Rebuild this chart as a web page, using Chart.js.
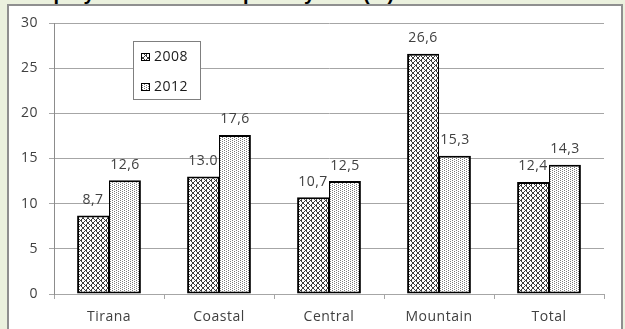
<!DOCTYPE html>
<html>
<head>
<meta charset="utf-8">
<script src="https://cdn.jsdelivr.net/npm/chart.js@4.4.1/dist/chart.umd.min.js"></script>
<style>
  html, body { margin: 0; padding: 0; }
  body { width: 625px; height: 329px; overflow: hidden; position: relative; background: #EBF1DE; }
  #heading { position: absolute; left: 0; top: 0; width: 625px; height: 4px; overflow: hidden; }
  #heading span { position: absolute; top: -17px; font: bold 20px "Liberation Sans", Arial, sans-serif; line-height: 20px; color: #000; white-space: nowrap; }
  #frame { position: absolute; left: 7px; top: 4px; width: 616px; height: 360px; box-sizing: border-box; background: #fff; border: 2px solid #8f8f8f; }
  #chart { position: absolute; left: 0; top: 0; }
</style>
</head>
<body>
<div id="heading"><span style="left:-2px">Unemployment and</span><span style="left:243px">poverty rate (%)</span></div>
<div id="frame"></div>
<canvas id="chart" width="625" height="329"></canvas>
<script>
// Regions and the two survey years
const categories = ['Tirana', 'Coastal', 'Central', 'Mountain', 'Total'];
const seriesNames = ['2008', '2012'];
// Value labels as printed above each bar; bar heights are parsed from them
const labels2008 = ['8,7', '13.0', '10,7', '26,6', '12,4'];
const labels2012 = ['12,6', '17,6', '12,5', '15,3', '14,3'];
const yTicks = [0, 5, 10, 15, 20, 25, 30];

const toNumber = s => parseFloat(s.replace(',', '.'));
const values2008 = labels2008.map(toNumber);
const values2012 = labels2012.map(toNumber);
const valueLabels = [labels2008, labels2012];

const FONT = '"Open Sans", "DejaVu Sans", sans-serif';
const TEXT = '#404040';
const GRID = '#a6a6a6';

// Build a small repeating fill from a per-pixel rule
function makePattern(size, isDark, dark) {
  const tile = document.createElement('canvas');
  tile.width = size; tile.height = size;
  const g = tile.getContext('2d');
  g.fillStyle = '#ffffff';
  g.fillRect(0, 0, size, size);
  g.fillStyle = dark;
  for (let y = 0; y < size; y++) {
    for (let x = 0; x < size; x++) {
      if (isDark(x, y)) g.fillRect(x, y, 1, 1);
    }
  }
  return g.createPattern(tile, 'repeat');
}

const crossHatch = makePattern(5, (x, y) => (x + y) % 5 === 0 || (x - y + 5) % 5 === 0 || (x + y) % 5 === 1 && (x - y + 5) % 5 === 1, '#3c3c3c');
const dotted = makePattern(4, (x, y) => (x === 0 && y % 2 === 0) || (x === 2 && y % 2 === 1), '#7a7a7a');
const fills = [crossHatch, dotted];

// Letter spacing for the canvas text
const spacing = {
  id: 'spacing',
  beforeUpdate(chart) { chart.ctx.letterSpacing = '0.5px'; },
  beforeDraw(chart) { chart.ctx.letterSpacing = '0.5px'; }
};

// Value labels centred above every bar
const barValues = {
  id: 'barValues',
  afterDatasetsDraw(chart) {
    const ctx = chart.ctx;
    ctx.save();
    ctx.font = '14px ' + FONT;
    ctx.fillStyle = TEXT;
    ctx.textAlign = 'center';
    ctx.textBaseline = 'middle';
    chart.data.datasets.forEach((ds, i) => {
      chart.getDatasetMeta(i).data.forEach((bar, j) => {
        ctx.fillText(valueLabels[i][j], bar.x, bar.y - 15.5);
      });
    });
    ctx.restore();
  }
};

// Boxed legend inside the plot, upper left
const insetLegend = {
  id: 'insetLegend',
  afterDraw(chart) {
    const ctx = chart.ctx;
    const box = { x: 133, y: 41, w: 67, h: 58 };
    ctx.save();
    ctx.strokeStyle = '#7f7f7f';
    ctx.lineWidth = 1;
    ctx.fillStyle = '#ffffff';
    ctx.fillRect(box.x, box.y, box.w, box.h);
    ctx.strokeRect(box.x + 0.5, box.y + 0.5, box.w, box.h);
    ctx.font = '14px ' + FONT;
    ctx.textBaseline = 'middle';
    ctx.textAlign = 'left';
    chart.data.datasets.forEach((ds, i) => {
      const cy = box.y + 16 + i * 30;
      ctx.fillStyle = ds.backgroundColor;
      ctx.fillRect(box.x + 8, cy - 4, 9, 8);
      ctx.strokeStyle = '#000';
      ctx.strokeRect(box.x + 8.5, cy - 3.5, 8, 7);
      ctx.fillStyle = '#1a1a1a';
      ctx.fillText(ds.label, box.x + 21, cy);
    });
    ctx.restore();
  }
};

new Chart(document.getElementById('chart'), {
  type: 'bar',
  data: {
    labels: categories,
    datasets: [
      { label: seriesNames[0], data: values2008, backgroundColor: fills[0], borderColor: '#000',
        borderWidth: { top: 2, left: 2, right: 1, bottom: 2 }, borderSkipped: false },
      { label: seriesNames[1], data: values2012, backgroundColor: fills[1], borderColor: '#000',
        borderWidth: { top: 2, left: 1, right: 2, bottom: 2 }, borderSkipped: false }
    ]
  },
  options: {
    responsive: false,
    animation: false,
    devicePixelRatio: 1,
    layout: { padding: { left: 0, right: 21, top: 23, bottom: 0 } },
    datasets: { bar: { categoryPercentage: 0.58, barPercentage: 1.0 } },
    plugins: { legend: { display: false }, tooltip: { enabled: false } },
    scales: {
      x: {
        grid: { offset: true, drawOnChartArea: false, tickLength: 5, color: GRID },
        border: { color: GRID },
        ticks: { color: TEXT, font: { family: FONT, size: 14 }, padding: 10 },
        afterFit(scale) { scale.height = 35; }
      },
      y: {
        min: 0, max: 30,
        afterBuildTicks(scale) { scale.ticks = yTicks.map(v => ({ value: v })); },
        grid: { color: GRID, tickLength: 5 },
        border: { color: '#8c8c8c' },
        ticks: { color: TEXT, font: { family: FONT, size: 14 }, padding: 11 },
        afterFit(scale) { scale.width = 54; }
      }
    }
  },
  plugins: [spacing, barValues, insetLegend]
});
</script>
</body>
</html>
